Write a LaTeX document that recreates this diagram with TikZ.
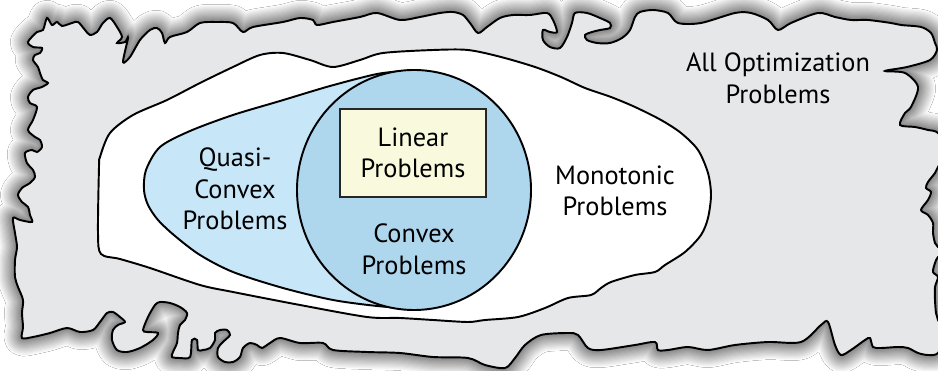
\documentclass[tikz,border=0pt]{standalone}
\usepackage{fontspec}
\setmainfont{PT Sans}
\usetikzlibrary{shadows.blur}

\definecolor{outergray}{HTML}{E6E7E9}
\definecolor{quasiblue}{HTML}{C7E7F8}
\definecolor{convexblue}{HTML}{AED7EE}
\definecolor{linyellow}{HTML}{F9F9DD}

\begin{document}
\begin{tikzpicture}[x=0.02cm,y=-0.02cm,
  region/.style={draw=black,line width=1.1pt},
  lbl/.style={align=center,font=\fontsize{15}{18}\selectfont,inner sep=0pt}]
\useasboundingbox (0,0) rectangle (938,371);
\fill[white] (0,0) rectangle (938,371);

% all problems: ragged outline with a soft halo
\draw[region,fill=outergray,
  blur shadow={shadow xshift=0pt,shadow yshift=0pt,shadow blur radius=10pt,
    shadow blur steps=16,shadow opacity=100}]
  plot[smooth cycle,tension=0.5] coordinates {
  (28,42) (37,32) (43,30) (47,18) (52,25) (57,22) (62,26) (72,23) (78,22) (85,30)
  (90,35) (97,32) (103,23) (110,18) (117,27) (122,37) (117,43) (125,42) (128,38) (123,62)
  (130,57) (140,40) (150,30) (157,28) (162,33) (165,43) (170,37) (187,32) (200,23) (217,22)
  (233,23) (243,32) (253,27) (283,22) (300,18) (313,20) (317,25) (333,22) (360,17) (377,13)
  (400,20) (420,17) (440,13) (453,12) (463,15) (470,23) (478,33) (487,27) (500,18) (513,15)
  (530,15) (547,13) (553,20) (557,32) (550,32) (543,30) (543,40) (550,47) (560,48) (567,37)
  (572,23) (575,13) (587,13) (600,18) (610,23) (610,28) (600,30) (592,32) (585,35) (587,40)
  (597,43) (610,43) (622,38) (630,30) (635,17) (640,12) (653,10) (668,13) (678,23) (701,23)
  (735,13) (751,13) (768,20) (778,30) (791,23) (818,13) (835,17) (851,20) (868,20) (891,23)
  (901,25) (921,27) (931,33) (935,43) (937,50) (930,60) (907,67) (885,71) (905,73) (918,87)
  (911,107) (905,113) (900,125) (915,127) (928,130) (938,133) (948,150) (938,167) (935,173) (928,182)
  (926,188) (931,192) (928,200) (921,210) (928,215) (933,223) (933,233) (935,243) (938,247) (946,252)
  (938,257) (935,263) (933,272) (938,277) (935,287) (935,300) (936,313) (938,320) (946,335) (938,353)
  (928,355) (918,353) (908,348) (898,347) (881,348) (873,347) (870,338) (865,340) (851,350) (841,355)
  (835,345) (828,322) (821,325) (801,342) (768,342) (735,345) (708,350) (688,347) (668,350) (658,350)
  (655,342) (635,345) (601,350) (588,348) (578,335) (568,333) (541,335) (525,345) (515,358) (505,368)
  (485,365) (468,358) (433,357) (400,353) (367,352) (333,350) (323,343) (300,343) (280,338) (270,343)
  (262,348) (257,345) (250,343) (243,348) (240,357) (233,362) (225,362) (218,357) (218,348) (223,342)
  (230,335) (227,330) (220,330) (215,333) (215,340) (210,348) (203,350) (198,350) (197,340) (192,340)
  (190,357) (180,358) (172,357) (173,352) (177,343) (178,333) (180,325) (185,320) (187,313) (180,307)
  (170,303) (160,302) (155,305) (148,317) (143,330) (147,332) (158,333) (153,340) (140,348) (127,352)
  (117,350) (112,340) (113,330) (118,325) (125,322) (120,317) (113,312) (107,313) (100,322) (93,330)
  (80,332) (67,328) (50,333) (33,337) (22,338) (23,327) (22,313) (23,300) (18,287) (15,277)
  (15,260) (17,247) (15,233) (13,218) (20,220) (32,222) (30,215) (28,207) (22,202) (18,195)
  (22,188) (30,183) (35,177) (33,170) (27,163) (25,153) (32,150) (37,152) (42,147) (40,140)
  (35,137) (28,130) (33,120) (37,107) (30,103) (28,97) (33,90) (42,87) (48,83) (43,80)
  (40,73) (38,67) (33,60) (35,55) (40,53) (42,48) (33,47)};

% monotonic
\draw[region,fill=white] plot[smooth cycle,tension=0.5] coordinates {
  (100,157) (110,133) (133,115) (167,100) (200,83) (233,67) (260,55) (283,53) (310,60) (333,67)
  (360,60) (383,53) (433,50) (468,50) (501,57) (535,67) (561,77) (585,88) (611,97) (635,107)
  (661,120) (681,133) (698,150) (708,173) (711,195) (708,218) (701,235) (685,252) (665,265) (655,272)
  (635,275) (611,282) (601,288) (591,295) (568,298) (545,308) (518,317) (485,320) (468,322) (433,320)
  (400,318) (367,317) (300,305) (233,292) (200,285) (150,268) (120,259) (101,254) (98,233) (99,167)};

% quasi-convex
\draw[region,fill=quasiblue] plot[smooth,tension=0.5] coordinates {
  (405,71) (377,74) (330,86) (280,101) (233,115) (190,131) (160,147) (146,170) (144,190) (148,205)
  (158,220) (175,236) (200,255) (233,272) (283,288) (333,300) (377,306) (405,308)} -- cycle;

% convex
\draw[region,fill=convexblue] (414,190) ellipse[x radius=117,y radius=120];

% linear
\node[lbl,draw=black!85,line width=1.4pt,fill=linyellow,minimum width=2.92cm,minimum height=1.76cm]
  (linear) at (413,153) {Linear\\Problems};

\node[lbl] (convex) at (414,249) {Convex\\Problems};
\node[lbl] (quasi) at (235,189) {Quasi-\\Convex\\Problems};
\node[lbl] (mono) at (615,191) {Monotonic\\Problems};
\node[lbl] (allopt) at (778,78) {All Optimization\\Problems};
\end{tikzpicture}
\end{document}
